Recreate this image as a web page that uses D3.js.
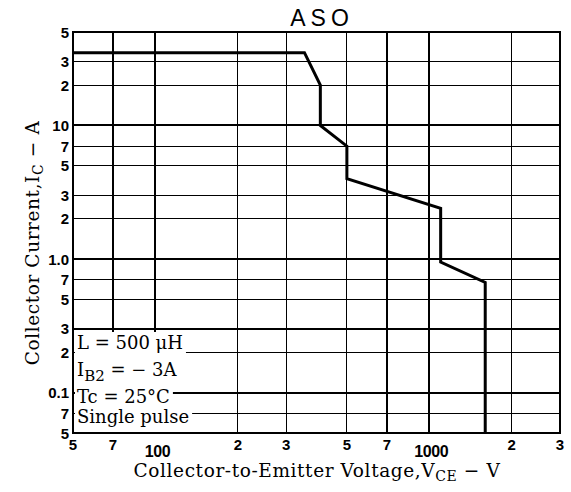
<!DOCTYPE html>
<html>
<head>
<meta charset="utf-8">
<script src="https://cdn.jsdelivr.net/npm/d3@7"></script>
<style>
    body { margin: 0; background: #fff; }
    .grid { stroke: #000; stroke-width: 1.2; shape-rendering: crispEdges; }
    .grid.major { stroke-width: 2; }
    .tick-label { font-family: "Liberation Sans", Arial, sans-serif; font-weight: bold; font-size: 15px; fill: #000; }
    .serif { font-family: "DejaVu Serif", serif; fill: #000; }
</style>
</head>
<body>
<div id="chart"></div>
<script>

// axis ticks / gridlines
var xTicks  = [50, 70, 100, 200, 300, 500, 700, 1000, 2000, 3000];
var xLabels = ['5', '7', '100', '2', '3', '5', '7', '1000', '2', '3'];
var xGrid   = [70, 100, 200, 300, 500, 700, 1000, 2000];

var yTicks  = [50, 30, 20, 10, 7, 5, 3, 2, 1, 0.7, 0.5, 0.3, 0.2, 0.1, 0.07, 0.05];
var yLabels = ['5', '3', '2', '10', '7', '5', '3', '2', '1.0', '7', '5', '3', '2', '0.1', '7', '5'];
var yGrid   = [30, 20, 10, 7, 5, 3, 2, 1, 0.7, 0.5, 0.3, 0.2, 0.1, 0.07];

// ASO boundary
var vce = [50, 350, 400, 400, 500, 500, 1100, 1100, 1600, 1600];
var ic  = [35, 35, 20, 10, 7, 4, 2.4, 0.95, 0.67, 0.05];

var notes = ['L = 500 μH', 'I|B2| = − 3A', 'Tc = 25°C', 'Single pulse'];

var width = 571, height = 492;
var plotL = 73, plotR = 560, plotT = 32, plotB = 433;

var x = d3.scaleLog().domain([50, 3000]).range([plotL, plotR]);
var y = d3.scaleLog().domain([0.05, 50]).range([plotB, plotT]);

var svg = d3.select('#chart').append('svg')
    .attr('width', width).attr('height', height);

// grid
svg.append('g').selectAll('line').data(yGrid).enter().append('line')
    .attr('class', function(d) { return (d == 10 || d == 1 || d == 0.1) ? 'grid major' : 'grid'; })
    .attr('x1', plotL).attr('x2', plotR)
    .attr('y1', function(d) { return y(d); }).attr('y2', function(d) { return y(d); });

svg.append('g').selectAll('line').data(xGrid).enter().append('line')
    .attr('class', function(d) { return (d == 100 || d == 1000) ? 'grid major' : 'grid'; })
    .attr('y1', plotT).attr('y2', plotB)
    .attr('x1', function(d) { return x(d); }).attr('x2', function(d) { return x(d); });

// curve
var line = d3.line()
    .x(function(d) { return x(d[0]); })
    .y(function(d) { return y(d[1]); });

svg.append('path')
    .datum(d3.zip(vce, ic))
    .attr('d', line)
    .attr('fill', 'none').attr('stroke', '#000').attr('stroke-width', 3)
    .attr('stroke-linejoin', 'miter');

// notes box (white background over grid)
var noteY = [349, 376, 403, 423];
var noteG = svg.append('g');
var noteBg = noteG.append('g');
var noteTexts = noteG.selectAll('text').data(notes).enter().append('text')
    .attr('class', 'serif').attr('font-size', 18)
    .attr('x', 77).attr('y', function(d, i) { return noteY[i]; })
    .each(function(d) {
        var parts = d.split('|');
        var t = d3.select(this);
        t.append('tspan').text(parts[0]);
        if (parts.length > 1) {
            t.append('tspan').attr('font-size', 15).attr('dy', 5).text(parts[1]);
            t.append('tspan').attr('dy', -5).text(parts[2]);
        }
    });

noteTexts.each(function(d, i) {
    var b = this.getBBox();
    var y0 = i == 0 ? plotT + 300 : noteY[i - 1] + 3;
    noteBg.append('rect')
        .attr('x', plotL + 2).attr('y', y0)
        .attr('width', b.x + b.width + 3 - (plotL + 2))
        .attr('height', (i == notes.length - 1 ? plotB - 1 : noteY[i] + 4) - y0)
        .attr('fill', '#fff');
});

// frame
svg.append('rect')
    .attr('x', plotL).attr('y', plotT).attr('width', plotR - plotL).attr('height', plotB - plotT)
    .attr('fill', 'none').attr('stroke', '#000').attr('stroke-width', 2);

// tick labels
svg.append('g').selectAll('text').data(yTicks).enter().append('text')
    .attr('class', 'tick-label').attr('text-anchor', 'end')
    .attr('x', 69).attr('y', function(d) { return y(d) + 5.5; })
    .text(function(d, i) { return yLabels[i]; });

svg.append('g').selectAll('text').data(xTicks).enter().append('text')
    .attr('class', 'tick-label').attr('text-anchor', 'middle')
    .attr('font-size', function(d, i) { return xLabels[i].length > 1 ? '16px' : null; })
    .attr('letter-spacing', function(d, i) { return xLabels[i].length > 1 ? -0.4 : 0; })
    .style('font-size', function(d, i) { return xLabels[i].length > 1 ? '16px' : null; })
    .attr('x', function(d, i) { return x(d) + (xLabels[i].length > 1 ? 2 : 0); })
    .attr('y', function(d, i) { return xLabels[i].length > 1 ? 457 : 450; })
    .text(function(d, i) { return xLabels[i]; });

// title
svg.append('text')
    .attr('x', 322).attr('y', 26).attr('text-anchor', 'middle')
    .attr('font-family', '"Liberation Sans", Arial, sans-serif').attr('font-size', 23)
    .attr('letter-spacing', 5)
    .text('ASO');

// axis titles
var xt = svg.append('text').attr('class', 'serif').attr('font-size', 18.5)
    .attr('letter-spacing', 0.6)
    .attr('x', 317).attr('y', 477).attr('text-anchor', 'middle');
xt.append('tspan').text('Collector-to-Emitter Voltage,V');
xt.append('tspan').attr('font-size', 14).attr('dy', 4).text('CE');
xt.append('tspan').attr('dy', -4).text(' − V');

var yt = svg.append('text').attr('class', 'serif').attr('font-size', 18.5)
    .attr('letter-spacing', 0.6)
    .attr('transform', 'translate(39,243) rotate(-90)').attr('text-anchor', 'middle');
yt.append('tspan').text('Collector Current,I');
yt.append('tspan').attr('font-size', 14).attr('dy', 4).text('C');
yt.append('tspan').attr('dy', -4).text(' − A');

</script>
</body>
</html>
